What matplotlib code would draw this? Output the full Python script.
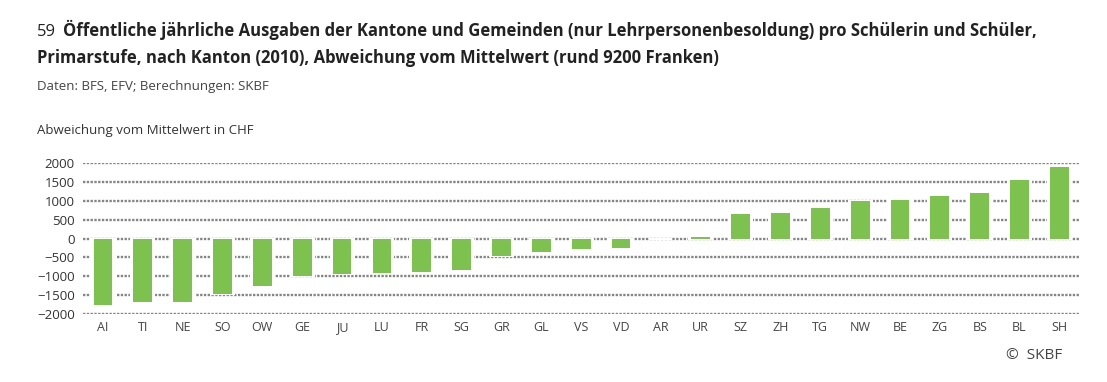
import matplotlib.pyplot as plt

# Kantone und Abweichung vom Mittelwert (CHF)
kantone = ["AI", "TI", "NE", "SO", "OW", "GE", "JU", "LU", "FR", "SG", "GR", "GL",
           "VS", "VD", "AR", "UR", "SZ", "ZH", "TG", "NW", "BE", "ZG", "BS", "BL", "SH"]
abweichung = [-1760, -1670, -1670, -1465, -1270, -985, -950, -925, -880, -825, -455, -345,
              -265, -240, 0, 30, 640, 675, 800, 985, 1015, 1120, 1210, 1545, 1895]
yticks = [2000, 1500, 1000, 500, 0, -500, -1000, -1500, -2000]

plt.rcParams['font.family'] = ['Open Sans', 'DejaVu Sans']

fig = plt.figure(figsize=(11.07, 3.82), dpi=100)
ax = fig.add_axes([0.075, 0.178, 0.9, 0.395])

x = range(len(kantone))
# weisser Rand um die Balken (unterbricht das Raster)
ax.bar(x, abweichung, width=0.58, color='white', edgecolor='white', linewidth=1.5, zorder=2)
ax.bar(x, abweichung, width=0.47, color='#7dc24f', linewidth=0, zorder=3)

for y in yticks:
    ax.axhline(y, color='#858585', linewidth=1.7, dashes=(1.0, 0.6), zorder=1)

ax.set_xlim(-0.5, len(kantone) - 0.5)
ax.set_ylim(-2000, 2000)
ax.set_yticks(yticks)
ax.set_yticklabels([str(v).replace('-', '\u2212') for v in yticks], fontsize=9.5, color='#333333')
ax.set_xticks(list(x))
ax.set_xticklabels(kantone, fontsize=9, color='#444444')
ax.tick_params(length=0, pad=5)
ax.tick_params(axis='y', pad=6)
for s in ax.spines.values():
    s.set_visible(False)

fig.text(0.033, 0.905, "59", fontsize=12, color='#222222')
fig.text(0.057, 0.905, "Öffentliche jährliche Ausgaben der Kantone und Gemeinden (nur Lehrpersonenbesoldung) pro Schülerin und Schüler,",
         fontsize=12, fontweight='bold', color='#222222')
fig.text(0.033, 0.835, "Primarstufe, nach Kanton (2010), Abweichung vom Mittelwert (rund 9200 Franken)",
         fontsize=12, fontweight='bold', color='#222222')
fig.text(0.033, 0.765, "Daten: BFS, EFV; Berechnungen: SKBF", fontsize=9.5, color='#444444')
fig.text(0.033, 0.65, "Abweichung vom Mittelwert in CHF", fontsize=9.5, color='#333333')
fig.text(0.96, 0.06, "©  SKBF", fontsize=11, color='#444444', ha='right')

fig.savefig("out.png", dpi=100)
